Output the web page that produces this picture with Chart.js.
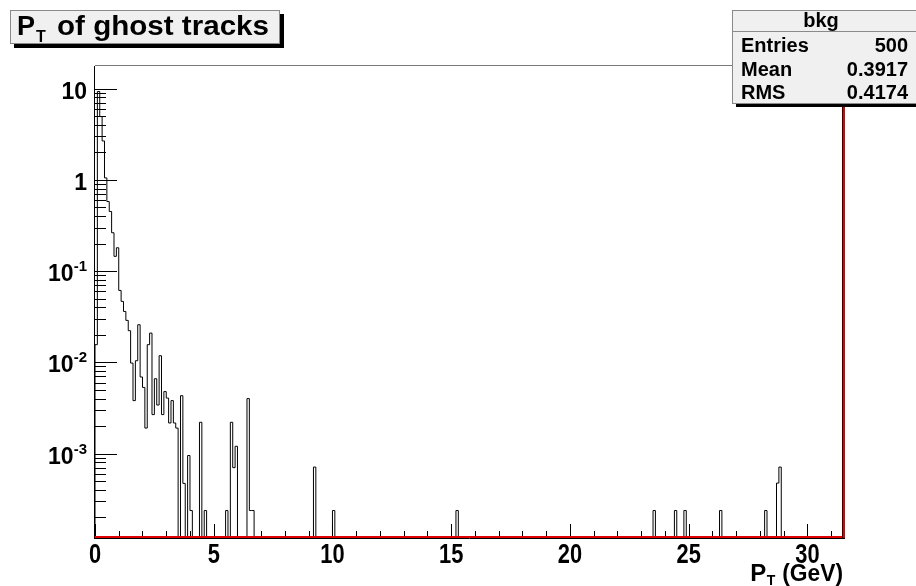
<!DOCTYPE html>
<html>
<head>
<meta charset="utf-8">
<script src="https://cdn.jsdelivr.net/npm/chart.js@4.4.0/dist/chart.umd.min.js"></script>
<style>
  html, body { margin: 0; padding: 0; background: #fff; overflow: hidden; }
  canvas { display: block; }
</style>
</head>
<body>
<canvas id="c" width="916" height="586"></canvas>
<script>
// Histogram binning (GeV)
const binWidth = 0.1;
const xMax = 31.5;

// Bin contents of the low-pT part, bin 0 starts at 0 GeV
const headContents = [
  0.0156, 9.3, 4.94, 2.67, 1.05, 0.578, 0.45, 0.263, 0.145, 0.18,
  0.0613, 0.0465, 0.0361, 0.0288, 0.0222, 0.0098, 0.0038, 0.0104, 0.0258, 0.0069,
  0.0053, 0.0019, 0.0156, 0.0209, 0.00267, 0.0066, 0.0034, 0.0118, 0.00267, 0.00477,
  0.00405, 0.00216, 0.0038, 0.00216, 0.0019, 0, 0.0043, 0.00047, 0, 0.00095,
  0.000237, 0, 0, 0, 0.0022, 0, 0.000237, 0, 0, 0,
  0, 0, 0, 0, 0, 0.000237, 0, 0.0022, 0.0007, 0.0012,
  0, 0, 0, 0, 0.004, 0.000237, 0.000237
];

// Isolated high-pT bins: bin index and content
const tailBins = [92, 100, 152, 235, 244, 248, 263, 282, 287, 288];
const tailContents = [7.1e-4, 2.37e-4, 2.37e-4, 2.37e-4, 2.37e-4, 2.37e-4, 2.37e-4, 2.37e-4, 4.74e-4, 7.1e-4];

// Axis ranges and labels
const yMin = 1.185e-4;
const yMax = 17.7;
const xTickLabels = [0, 5, 10, 15, 20, 25, 30];
const yDecades = [-3, -2, -1, 0, 1];

// Title and statistics box
const titleMain = 'P';
const titleSub = 'T';
const titleRest = 'of ghost tracks';
const xTitleUnit = '(GeV)';
const statsTitle = 'bkg';
const statsNames = ['Entries', 'Mean', 'RMS'];
const statsValues = ['500', '0.3917', '0.4174'];

// ---- build the stepped outline of the histogram ----
const nBins = Math.round(xMax / binWidth);
const contents = new Array(nBins).fill(0);
headContents.forEach((v, i) => { contents[i] = v; });
tailBins.forEach((b, k) => { contents[b] = tailContents[k]; });

const outline = [{ x: 0, y: yMin }];
for (let i = 0; i < nBins; i++) {
  outline.push({ x: i * binWidth, y: contents[i] > 0 ? contents[i] : yMin });
}
outline.push({ x: nBins * binWidth, y: yMin });

const FONT = '"Liberation Sans", Arial, Helvetica, sans-serif';

function setFont(ctx, size) { ctx.font = 'bold ' + size + 'px ' + FONT; }
function textWidth(ctx, s, size, sx) {
  ctx.save(); setFont(ctx, size);
  const w = ctx.measureText(s).width * (sx || 1);
  ctx.restore();
  return w;
}
function drawText(ctx, s, x, y, size, align, sx, color) {
  ctx.save();
  setFont(ctx, size);
  ctx.fillStyle = color || '#000';
  ctx.translate(x, y);
  ctx.scale(sx || 1, 1);
  ctx.textAlign = align || 'left';
  ctx.textBaseline = 'alphabetic';
  ctx.fillText(s, 0, 0);
  ctx.restore();
}

// ROOT-style frame, ticks, labels and pave boxes
const rootStyle = {
  id: 'rootStyle',
  afterDatasetsDraw(chart) {
    const { ctx, chartArea: a, scales } = chart;
    const xs = scales.x, ys = scales.y;
    ctx.save();

    // frame: top (grey) and left axis line
    ctx.lineWidth = 1;
    ctx.strokeStyle = '#7a7a7a';
    ctx.beginPath();
    ctx.moveTo(a.left, a.top - 0.5); ctx.lineTo(a.right, a.top - 0.5);
    ctx.stroke();
    ctx.strokeStyle = '#000';
    ctx.beginPath();
    ctx.moveTo(a.left - 0.5, a.top); ctx.lineTo(a.left - 0.5, a.bottom + 1);
    ctx.stroke();

    // x ticks at every GeV, longer at labelled ones
    ctx.strokeStyle = '#000';
    for (let k = 0; k <= Math.floor(xMax); k++) {
      const px = Math.round(xs.getPixelForValue(k)) + 0.5;
      const len = (k % 5 === 0) ? 14 : 7;
      ctx.beginPath();
      ctx.moveTo(px, a.bottom); ctx.lineTo(px, a.bottom - len);
      ctx.stroke();
    }
    // y ticks: decades and 2..9 minor ticks
    for (let d = -5; d <= 2; d++) {
      for (let m = 1; m <= 9; m++) {
        const v = m * Math.pow(10, d);
        if (v < yMin || v > yMax) continue;
        const py = Math.round(ys.getPixelForValue(v)) + 0.5;
        const len = (m === 1) ? 22 : 11;
        ctx.beginPath();
        ctx.moveTo(a.left, py); ctx.lineTo(a.left + len, py);
        ctx.stroke();
      }
    }

    // red frame border on the right and bottom
    ctx.fillStyle = '#e00000';
    ctx.fillRect(a.left, a.bottom - 2, a.right - a.left + 2, 2);
    ctx.fillRect(a.right, 100, 2, a.bottom - 100);
    ctx.strokeStyle = '#000';
    ctx.beginPath();
    ctx.moveTo(a.left - 1, a.bottom + 0.5); ctx.lineTo(a.right + 2, a.bottom + 0.5);
    ctx.moveTo(a.right - 0.5, 100); ctx.lineTo(a.right - 0.5, a.bottom);
    ctx.stroke();

    // y labels: 10^d
    yDecades.forEach(d => {
      const py = ys.getPixelForValue(Math.pow(10, d));
      const right = 87;
      const base = py + 10;
      if (d === 0) {
        drawText(ctx, '1', right, base, 23, 'right');
      } else if (d === 1) {
        drawText(ctx, '10', right, base, 23, 'right');
      } else {
        const sup = String(d);
        const ws = textWidth(ctx, sup, 15);
        drawText(ctx, sup, right - ws, base - 10, 15, 'left');
        drawText(ctx, '10', right - ws, base, 23, 'right');
      }
    });

    // x labels
    const xsx = 0.78;
    xTickLabels.forEach(v => {
      const px = xs.getPixelForValue(v);
      drawText(ctx, String(v), px, 563, 28, 'center', xsx);
    });

    // x title P_T (GeV), right aligned to the frame
    const wP = textWidth(ctx, titleMain, 24);
    const wT = textWidth(ctx, titleSub, 14);
    const wU = textWidth(ctx, ' ' + xTitleUnit, 24, 0.95);
    let tx = a.right - (wP + wT + 1 + wU);
    drawText(ctx, titleMain, tx, 581, 24, 'left');
    drawText(ctx, titleSub, tx + wP + 0.5, 585, 14, 'left');
    drawText(ctx, ' ' + xTitleUnit, tx + wP + wT + 1, 581, 24, 'left', 0.95);

    // title pave
    ctx.fillStyle = '#000';
    ctx.fillRect(14, 14, 270, 34);
    ctx.fillStyle = '#f0f0f0';
    ctx.fillRect(10, 10, 270, 34);
    ctx.strokeStyle = '#8a8a8a';
    ctx.strokeRect(10.5, 10.5, 269, 33);
    const tP = textWidth(ctx, titleMain, 27);
    drawText(ctx, titleMain, 17, 35, 27, 'left');
    drawText(ctx, titleSub, 17 + tP + 1, 42, 16, 'left');
    const restW = textWidth(ctx, titleRest, 27);
    drawText(ctx, titleRest, 57, 35, 27, 'left', 212 / restW);

    // statistics pave
    const bx = 732, by = 10, bw = 190, bh = 93;
    ctx.fillStyle = '#000';
    ctx.fillRect(bx + 4, by + 4, bw, bh);
    ctx.fillStyle = '#f0f0f0';
    ctx.fillRect(bx, by, bw, bh);
    ctx.strokeStyle = '#8a8a8a';
    ctx.strokeRect(bx + 0.5, by + 0.5, bw, bh);
    ctx.beginPath();
    ctx.moveTo(bx, 31.5); ctx.lineTo(bx + bw, 31.5);
    ctx.stroke();
    drawText(ctx, statsTitle, 821, 27, 20, 'center');
    const rowsY = [52, 76, 99];
    statsNames.forEach((n, i) => {
      drawText(ctx, n, 741, rowsY[i], 20, 'left');
      drawText(ctx, statsValues[i], 908, rowsY[i], 20, 'right');
    });

    ctx.restore();
  }
};

new Chart(document.getElementById('c'), {
  type: 'line',
  data: {
    datasets: [{
      data: outline,
      stepped: 'before',
      borderColor: '#000',
      borderWidth: 1,
      pointRadius: 0,
      fill: false,
      tension: 0
    }]
  },
  options: {
    responsive: false,
    animation: false,
    devicePixelRatio: 1,
    layout: { padding: { left: 95, right: 73, top: 66, bottom: 48 } },
    plugins: { legend: { display: false }, tooltip: { enabled: false }, title: { display: false } },
    scales: {
      x: { type: 'linear', min: 0, max: xMax, display: false },
      y: { type: 'logarithmic', min: yMin, max: yMax, display: false }
    }
  },
  plugins: [rootStyle]
});
</script>
</body>
</html>
